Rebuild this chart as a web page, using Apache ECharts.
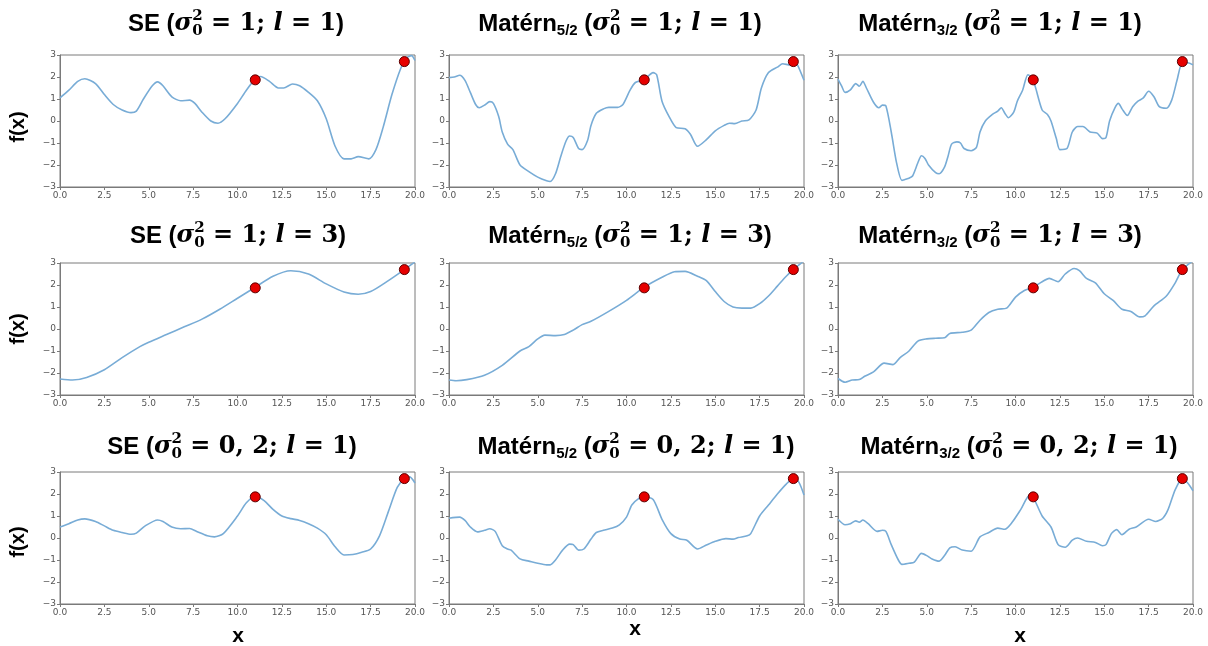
<!DOCTYPE html>
<html><head><meta charset="utf-8">
<script src="https://cdn.jsdelivr.net/npm/echarts@6/dist/echarts.min.js"></script>
<style>html,body{margin:0;padding:0;background:#fff}#c{width:1208px;height:646px}</style>
</head><body><div id="c"></div>
<script>
// ---------- DATA ----------
const kernelName = ['SE', 'Matérn', 'Matérn'];
const kernelSub = ['', '5/2', '3/2'];
const sigmaVals = ['1', '1', '0, 2'];
const ellVals = ['1', '3', '1'];
const xTicks = [0, 2.5, 5, 7.5, 10, 12.5, 15, 17.5, 20];
const yTicks = [-3, -2, -1, 0, 1, 2, 3];
const obsX = [11.0, 19.4];
const obsY = [1.87, 2.7];

// Row 1: sigma^2 = 1, l = 1
const seAx = [0,0.5,1,1.4,2,2.5,3,3.5,4,4.3,4.7,5.2,5.5,5.8,6.3,6.8,7.3,7.6,8,8.5,8.9,9.3,10,10.5,11,11.3,11.8,12.3,12.6,13.1,13.5,14,14.5,15,15.5,16,16.4,16.8,17.4,17.8,18.2,18.7,19.2,19.5,19.8,20];
const seAy = [1.05,1.4,1.8,1.92,1.7,1.2,0.75,0.5,0.38,0.45,1.0,1.6,1.78,1.6,1.1,0.92,0.95,0.8,0.4,0.0,-0.1,0.1,0.8,1.4,1.9,2.02,1.8,1.5,1.5,1.68,1.6,1.3,0.92,0.1,-1.15,-1.72,-1.72,-1.62,-1.72,-1.3,-0.3,1.2,2.4,2.85,2.97,2.75];
const m5Ax = [0,0.3,0.6,0.9,1.2,1.5,1.7,2.0,2.3,2.5,2.8,3.0,3.3,3.6,4.0,4.5,5.0,5.5,5.7,6.0,6.3,6.6,6.8,7.0,7.3,7.5,7.8,8.0,8.3,8.7,9.0,9.5,9.8,10.2,10.5,11.0,11.5,11.7,12.0,12.4,12.8,13.3,13.6,14.0,14.5,15.0,15.5,15.8,16.1,16.5,16.9,17.3,17.6,18.0,18.5,18.8,19.2,19.4,19.6,20.0];
const m5Ay = [1.97,2.0,2.08,1.85,1.3,0.75,0.6,0.72,0.88,0.8,0.2,-0.5,-1.05,-1.3,-2.0,-2.3,-2.55,-2.72,-2.75,-2.4,-1.6,-0.9,-0.68,-0.75,-1.25,-1.3,-0.9,-0.2,0.35,0.55,0.62,0.62,0.75,1.4,1.75,1.88,2.2,2.1,0.9,0.2,-0.3,-0.35,-0.6,-1.15,-0.85,-0.45,-0.2,-0.1,-0.12,0.0,0.05,0.5,1.5,2.2,2.45,2.6,2.55,2.7,2.6,1.85];
const m3Ax = [0,0.2,0.4,0.7,1.0,1.2,1.4,1.6,2.0,2.3,2.5,2.7,3.0,3.3,3.6,3.8,4.0,4.2,4.5,4.7,4.9,5.1,5.5,5.7,6.0,6.2,6.4,6.7,6.9,7.1,7.5,7.8,8.0,8.3,8.7,9.0,9.2,9.4,9.6,9.9,10.1,10.4,10.7,10.9,11.1,11.5,11.8,12.0,12.3,12.5,12.9,13.2,13.5,13.8,14.2,14.6,14.9,15.1,15.3,15.6,15.8,16.0,16.3,16.6,16.9,17.2,17.5,17.8,18.1,18.5,18.8,19.1,19.4,19.7,20.0];
const m3Ay = [1.9,1.6,1.3,1.42,1.7,1.58,1.8,1.5,0.85,0.6,0.72,0.68,-0.5,-1.9,-2.7,-2.65,-2.6,-2.5,-1.9,-1.58,-1.7,-2.0,-2.35,-2.4,-2.1,-1.6,-1.05,-0.95,-1.0,-1.25,-1.35,-1.2,-0.5,0.0,0.3,0.45,0.6,0.35,0.15,0.4,0.9,1.4,2.1,2.0,1.6,0.5,0.3,0.0,-0.8,-1.3,-1.25,-0.5,-0.25,-0.25,-0.5,-0.55,-0.8,-0.75,0.0,0.6,0.8,0.55,0.25,0.65,0.9,1.05,1.35,1.1,0.65,0.58,0.95,1.85,2.65,2.65,2.55];

// Row 2: sigma^2 = 1, l = 3
const seBx = [0,0.7,1.5,2.5,3.5,4.5,5.0,6.0,7.0,8.0,9.0,10.0,11.0,12.0,13.0,14.0,15.0,16.0,16.8,17.5,18.5,19.4,20.0];
const seBy = [-2.27,-2.32,-2.2,-1.85,-1.3,-0.8,-0.6,-0.25,0.1,0.45,0.9,1.4,1.9,2.4,2.65,2.5,2.05,1.68,1.58,1.7,2.2,2.7,3.05];
const m5Bx = [0,0.4,1.0,2.0,3.0,4.0,4.5,5.0,5.4,6.0,6.5,7.0,7.5,8.0,9.0,10.0,11.0,12.0,12.7,13.3,14.0,14.5,15.0,15.5,16.0,16.5,17.0,17.5,18.0,18.5,19.0,19.4,20.0];
const m5By = [-2.32,-2.35,-2.3,-2.1,-1.65,-1.0,-0.8,-0.45,-0.28,-0.3,-0.25,-0.05,0.2,0.35,0.8,1.3,1.9,2.35,2.6,2.62,2.4,2.2,1.7,1.25,1.0,0.95,0.95,1.15,1.5,1.95,2.4,2.7,3.1];
const m3Bx = [0,0.4,0.8,1.2,1.5,2.0,2.6,3.1,3.5,4.0,4.5,5.0,5.5,6.0,6.3,7.0,7.5,8.0,8.5,9.0,9.5,10.0,10.5,11.0,11.5,11.9,12.4,12.8,13.3,13.6,14.0,14.5,15.0,15.5,16.0,16.5,17.0,17.3,17.8,18.5,19.0,19.4,20.0];
const m3By = [-2.25,-2.42,-2.32,-2.3,-2.15,-1.95,-1.55,-1.62,-1.3,-1.0,-0.55,-0.45,-0.42,-0.4,-0.2,-0.15,-0.05,0.4,0.75,0.9,0.95,1.45,1.75,1.9,2.15,2.3,2.15,2.5,2.75,2.65,2.3,2.1,1.6,1.3,0.9,0.8,0.55,0.6,1.05,1.5,2.1,2.7,3.1];

// Row 3: sigma^2 = 0,2, l = 1
const seCx = [0,0.5,1,1.4,2,2.5,3,3.5,4,4.3,4.8,5.5,5.8,6.3,6.8,7.3,7.7,8.3,8.7,9.2,10,10.5,11,11.5,12,12.5,13,13.5,14,14.5,15,15.5,16,16.5,17,17.5,18,18.5,19,19.4,19.7,20];
const seCy = [0.5,0.65,0.82,0.87,0.75,0.55,0.35,0.25,0.17,0.22,0.55,0.82,0.75,0.5,0.42,0.43,0.3,0.1,0.05,0.2,1.0,1.6,1.9,1.7,1.3,1.0,0.88,0.8,0.65,0.45,0.15,-0.4,-0.77,-0.75,-0.65,-0.5,0.1,1.2,2.3,2.7,2.78,2.5];
const m5Cx = [0,0.6,0.9,1.2,1.6,2.0,2.3,2.6,3.0,3.3,3.5,4.0,4.5,5.0,5.5,5.7,6.0,6.4,6.8,7.0,7.3,7.6,8.0,8.3,8.7,9.2,9.6,10.0,10.3,10.7,11.0,11.5,12.0,12.5,13.0,13.4,14.0,14.5,15.0,15.6,16.0,16.3,16.8,17.0,17.5,18.0,18.5,19.0,19.4,19.7,20.0];
const m5Cy = [0.9,0.95,0.8,0.5,0.28,0.35,0.42,0.3,-0.35,-0.5,-0.55,-0.95,-1.05,-1.15,-1.22,-1.22,-1.0,-0.55,-0.28,-0.3,-0.55,-0.5,-0.05,0.25,0.35,0.45,0.6,0.95,1.5,1.8,1.88,1.75,0.85,0.2,-0.05,-0.1,-0.5,-0.32,-0.15,-0.03,-0.05,0.02,0.1,0.2,1.0,1.5,2.0,2.45,2.7,2.55,1.95];
const m3Cx = [0,0.4,0.7,1.0,1.2,1.4,1.7,2.2,2.5,2.7,3.0,3.4,3.6,4.0,4.3,4.7,5.0,5.3,5.7,6.0,6.3,6.6,7.0,7.5,8.0,8.5,9.0,9.4,9.8,10.3,10.8,11.0,11.5,12.0,12.4,12.8,13.2,13.5,14.0,14.5,14.9,15.1,15.4,15.7,16.0,16.4,16.8,17.5,17.9,18.3,18.6,19.0,19.4,19.7,20.0];
const m3Cy = [0.85,0.6,0.65,0.78,0.72,0.82,0.65,0.3,0.35,0.3,-0.3,-1.0,-1.2,-1.15,-1.1,-0.7,-0.8,-0.95,-1.05,-0.8,-0.45,-0.4,-0.55,-0.6,0.05,0.25,0.45,0.4,0.7,1.3,1.95,1.85,1.0,0.5,-0.3,-0.42,-0.1,0.0,-0.15,-0.2,-0.35,-0.3,0.2,0.38,0.15,0.4,0.5,0.85,0.75,0.9,1.3,2.2,2.7,2.5,2.15];

const panelXs = [[seAx, m5Ax, m3Ax], [seBx, m5Bx, m3Bx], [seCx, m5Cx, m3Cx]];
const panelYs = [[seAy, m5Ay, m3Ay], [seBy, m5By, m3By], [seCy, m5Cy, m3Cy]];

// ---------- LAYOUT ----------
const colLeft = [60, 449, 838];
const rowTop = [55, 263, 472];
const gridW = 355, gridH = 132;
const titleCX = [[236, 620, 1000], [238, 630, 1000], [232, 636, 1019]];
const titleCY = [24, 236, 447];
const frameColor = '#7a7a7a';
const lineColor = '#78acd6';
const SANS = '"Liberation Sans", Arial, sans-serif';
const SERIF = '"DejaVu Serif", serif';

const chart = echarts.init(document.getElementById('c'), null, {renderer: 'canvas'});
const grids = [], xAxes = [], yAxes = [], series = [], graphics = [];
const fmtMinus = v => String(v).replace('-', '\u2212');

for (let r = 0; r < 3; r++) {
  for (let c = 0; c < 3; c++) {
    const i = r * 3 + c;
    grids.push({left: colLeft[c], top: rowTop[r], width: gridW, height: gridH,
      show: true, borderColor: frameColor, borderWidth: 1, backgroundColor: '#fff'});
    xAxes.push({type: 'value', gridIndex: i, min: 0, max: 20, interval: 2.5,
      axisLine: {show: true, onZero: false, lineStyle: {color: frameColor, width: 1}},
      axisTick: {show: true, length: 3, inside: false, lineStyle: {color: frameColor}},
      splitLine: {show: false},
      axisLabel: {margin: 4, fontFamily: '"DejaVu Sans"', fontSize: 9, color: '#555',
        formatter: v => v.toFixed(1), showMinLabel: true, showMaxLabel: true}});
    yAxes.push({type: 'value', gridIndex: i, min: -3, max: 3, interval: 1,
      axisLine: {show: true, onZero: false, lineStyle: {color: frameColor, width: 1}},
      axisTick: {show: true, length: 3, inside: false, lineStyle: {color: frameColor}},
      splitLine: {show: false},
      axisLabel: {margin: 4, fontFamily: '"DejaVu Sans"', fontSize: 9, color: '#555',
        formatter: fmtMinus}});
    const xs = panelXs[r][c], ys = panelYs[r][c];
    series.push({type: 'line', xAxisIndex: i, yAxisIndex: i, showSymbol: false, smooth: 0.25,
      clip: true, lineStyle: {color: lineColor, width: 1.6}, z: 2, silent: true,
      data: xs.map((x, k) => [x, ys[k]])});
    series.push({type: 'scatter', xAxisIndex: i, yAxisIndex: i, symbolSize: 10, z: 3,
      itemStyle: {color: '#e60000', borderColor: '#5a0000', borderWidth: 1, opacity: 1},
      data: obsX.map((x, k) => [x, obsY[k]])});
  }
}

// ---------- TITLES (measured token layout) ----------
const mctx = document.createElement('canvas').getContext('2d');
function tw(text, font) { mctx.font = font; return mctx.measureText(text).width; }
const BIG = 24, SMALL = 15;
function titleTokens(c, r) {
  const t = [];
  t.push({text: kernelName[c], font: `bold ${BIG}px ${SANS}`});
  if (kernelSub[c]) t.push({text: kernelSub[c], font: `bold ${SMALL}px ${SANS}`, dy: 7});
  t.push({text: ' (', font: `bold ${BIG}px ${SANS}`});
  t.push({text: 'σ', font: `italic bold ${BIG}px ${SERIF}`});
  t.push({stack: [{text: '2', dy: -8}, {text: '0', dy: 7}], font: `bold ${SMALL}px ${SERIF}`});
  t.push({text: ' = ' + sigmaVals[r] + '; ', font: `bold ${BIG}px ${SERIF}`});
  t.push({text: 'l', font: `italic bold ${BIG}px ${SERIF}`});
  t.push({text: ' = ' + ellVals[r], font: `bold ${BIG}px ${SERIF}`});
  t.push({text: ')', font: `bold ${BIG}px ${SANS}`});
  return t;
}
for (let r = 0; r < 3; r++) {
  for (let c = 0; c < 3; c++) {
    const toks = titleTokens(c, r);
    let total = 0;
    toks.forEach(tk => {
      tk.w = tk.stack ? Math.max(...tk.stack.map(s => tw(s.text, tk.font))) : tw(tk.text, tk.font);
      total += tk.w;
    });
    let x = titleCX[r][c] - total / 2;
    const y = titleCY[r];
    toks.forEach(tk => {
      const parts = tk.stack ? tk.stack : [{text: tk.text, dy: tk.dy || 0}];
      parts.forEach(p => {
        graphics.push({type: 'text', x: x, y: y + (p.dy || 0), silent: true,
          style: {text: p.text, font: tk.font, fill: '#000', align: 'left', verticalAlign: 'middle'}});
      });
      x += tk.w;
    });
  }
}
// axis labels
const fxY = [127, 329, 542];
fxY.forEach(yy => graphics.push({type: 'text', x: 18, y: yy, rotation: Math.PI / 2, silent: true,
  style: {text: 'f(x)', font: `bold 20px ${SANS}`, fill: '#000', align: 'center', verticalAlign: 'middle'}}));
const xLabPos = [[238, 636], [635, 629], [1020, 636]];
xLabPos.forEach(p => graphics.push({type: 'text', x: p[0], y: p[1], silent: true,
  style: {text: 'x', font: `bold 21px ${SANS}`, fill: '#000', align: 'center', verticalAlign: 'middle'}}));

chart.setOption({
  animation: false,
  backgroundColor: '#fff',
  grid: grids, xAxis: xAxes, yAxis: yAxes, series: series,
  graphic: graphics
});
</script></body></html>
